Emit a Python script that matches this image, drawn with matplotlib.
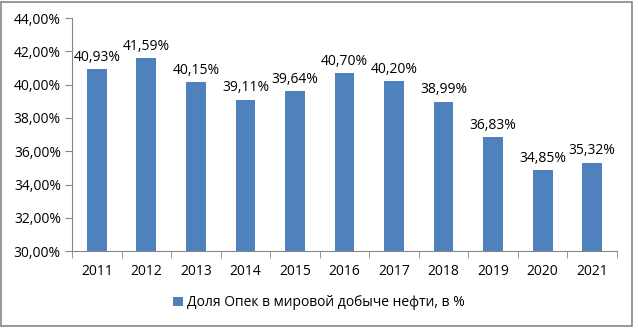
import matplotlib.pyplot as plt
from matplotlib.patches import Rectangle
from matplotlib.ticker import FuncFormatter

years = ["2011", "2012", "2013", "2014", "2015", "2016", "2017", "2018", "2019", "2020", "2021"]
share = [40.93, 41.59, 40.15, 39.11, 39.64, 40.70, 40.20, 38.99, 36.83, 34.85, 35.32]
series_name = "Доля Опек в мировой добыче нефти, в %"

plt.rcParams['font.family'] = ['Open Sans', 'DejaVu Sans']

def pct(v):
    return f"{v:.2f}".replace(".", ",") + "%"

fig = plt.figure(figsize=(6.38, 3.30), dpi=100)
ax = fig.add_axes([0.113, 0.239, 0.854, 0.706])

x = range(len(years))
bars = ax.bar(x, share, width=0.4, color="#4F81BD", label=series_name)
for xi, v in zip(x, share):
    ax.text(xi, v + 0.25, pct(v), ha="center", va="bottom", fontsize=10, color="#000000")

ax.set_ylim(30, 44)
ax.set_yticks(range(30, 45, 2))
ax.yaxis.set_major_formatter(FuncFormatter(lambda v, p: pct(v)))
ax.set_xlim(-0.5, len(years) - 0.5)
ax.set_xticks(list(x))
ax.set_xticklabels(years)
ax.tick_params(axis="x", length=0, pad=9, labelsize=10)
ax.set_xticks([i - 0.5 for i in range(len(years) + 1)], minor=True)
ax.tick_params(axis="x", which="minor", length=5, color="#868686", direction="out")
ax.tick_params(axis="y", length=5, color="#868686", labelsize=10, pad=3)

for side in ["top", "right"]:
    ax.spines[side].set_visible(False)
for side in ["left", "bottom"]:
    ax.spines[side].set_color("#868686")

fig.legend(handles=[bars], labels=[series_name], loc="center", bbox_to_anchor=(0.5, 0.082),
           frameon=False, fontsize=10, handlelength=0.7, handleheight=0.7, handletextpad=0.3)

fig.patches.append(Rectangle((0.002, 0.012), 0.988, 0.983, transform=fig.transFigure,
                             fill=False, edgecolor="#868686", linewidth=1.2))

fig.savefig("out.png", dpi=100)
